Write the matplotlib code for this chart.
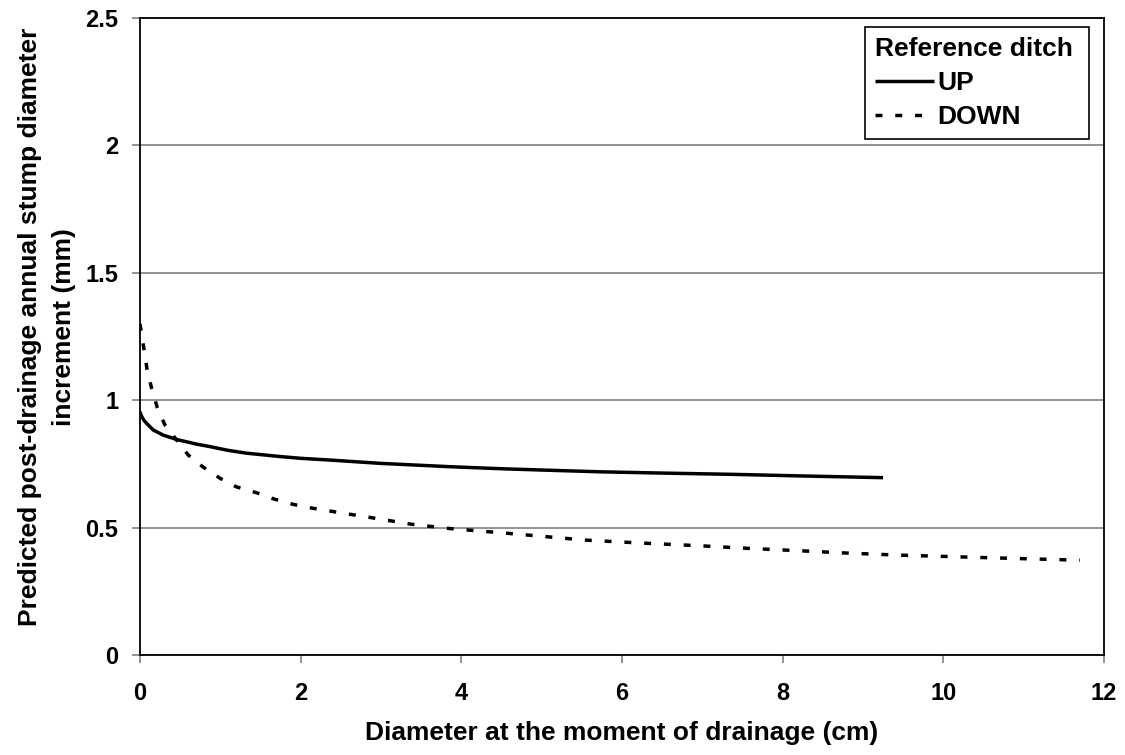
import matplotlib
matplotlib.use("Agg")
import matplotlib.pyplot as plt
from matplotlib.font_manager import FontProperties

plt.rcParams['font.family'] = ['Liberation Sans', 'DejaVu Sans']
plt.rcParams['font.weight'] = 'bold'

# Predicted increment (mm) against diameter at drainage (cm)
up_x = [0.0, 0.02, 0.05, 0.083, 0.166, 0.29, 0.456, 0.70, 0.87, 1.1, 1.33,
        1.74, 2.0, 2.37, 3.0, 3.86, 4.5, 5.0, 5.73, 6.5, 7.38, 8.2, 8.8, 9.25]
up_y = [0.955, 0.937, 0.921, 0.909, 0.883, 0.863, 0.846, 0.828, 0.818, 0.803,
        0.792, 0.779, 0.772, 0.765, 0.752, 0.739, 0.731, 0.726, 0.719, 0.714,
        0.709, 0.703, 0.699, 0.696]

down_x = [0.0, 0.02, 0.05, 0.09, 0.145, 0.215, 0.31, 0.456, 0.6, 0.78, 1.0,
          1.2, 1.45, 1.68, 1.91, 2.15, 2.6, 3.0, 3.36, 3.83, 4.56, 5.0, 5.54,
          6.2, 7.01, 7.6, 8.22, 8.8, 9.44, 10.0, 10.42, 11.0, 11.7]
down_y = [1.30, 1.26, 1.20, 1.118, 1.047, 0.972, 0.903, 0.844, 0.785, 0.739,
          0.693, 0.660, 0.637, 0.611, 0.591, 0.576, 0.553, 0.533, 0.514, 0.497,
          0.478, 0.466, 0.451, 0.440, 0.428, 0.418, 0.409, 0.400, 0.392, 0.387,
          0.383, 0.378, 0.372]

x_ticks = [0, 2, 4, 6, 8, 10, 12]
y_ticks = [0, 0.5, 1, 1.5, 2, 2.5]
y_tick_labels = ['0', '0.5', '1', '1.5', '2', '2.5']

fig = plt.figure(figsize=(11.25, 7.55), dpi=100)
ax = fig.add_axes([0.1244, 0.1325, 0.8569, 0.8435])

ax.plot(up_x, up_y, color='black', lw=2.5, solid_capstyle='butt',
        solid_joinstyle='round', label='UP')
ax.plot(down_x, down_y, color='black', lw=2.5,
        linestyle=(0, (2.0, 3.7)), dash_capstyle='butt', label='DOWN')

ax.set_xlim(0, 12)
ax.set_ylim(0, 2.5)
ax.set_xticks(x_ticks)
ax.set_yticks(y_ticks)
ax.set_yticklabels(y_tick_labels)
ax.yaxis.grid(True, color='#808080', lw=1.2)
ax.set_axisbelow(True)
ax.tick_params(axis='both', direction='out', length=5.5, width=1.2,
               color='#808080', labelsize=17)
ax.tick_params(axis='x', pad=14)
ax.tick_params(axis='y', pad=10)
for lab in ax.get_xticklabels() + ax.get_yticklabels():
    lab.set_fontweight('bold')
for sp in ax.spines.values():
    sp.set_color('black')
    sp.set_linewidth(1.3)

ax.set_xlabel('Diameter at the moment of drainage (cm)', fontsize=19,
              fontweight='bold')
ax.xaxis.set_label_coords(0.5, -0.1036)
ax.set_ylabel('Predicted post-drainage annual stump diameter\nincrement (mm)',
              fontsize=19, fontweight='bold', linespacing=1.5)
ax.yaxis.set_label_coords(-0.0664, 0.515)

leg = ax.legend(title='Reference ditch', loc='upper left',
                bbox_to_anchor=(0.752, 0.80, 0.232, 0.186), mode='expand',
                borderaxespad=0,
                prop=FontProperties(family='Liberation Sans', weight='bold', size=19),
                title_fontproperties=FontProperties(family='Liberation Sans',
                                                    weight='bold', size=19),
                handlelength=2.25, handletextpad=0.1, labelspacing=0.38,
                fancybox=False, framealpha=1, edgecolor='black',
                borderpad=0.38)
leg._legend_box.align = 'left'
leg.get_frame().set_linewidth(1.2)

fig.savefig('out.png', dpi=100, facecolor='white')
